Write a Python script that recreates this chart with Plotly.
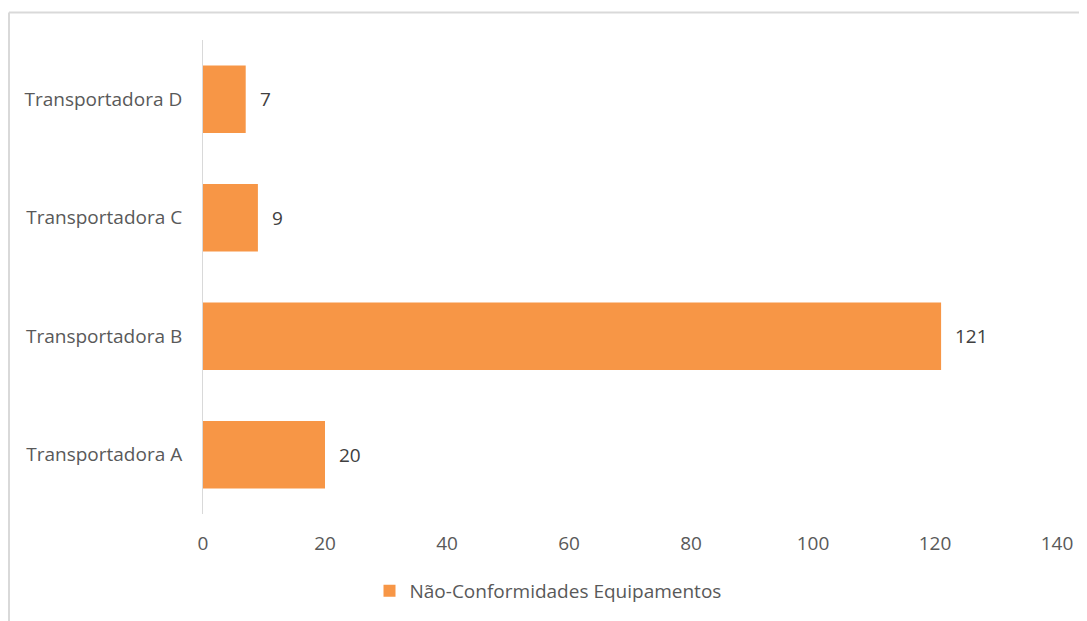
import plotly.graph_objects as go

categories = ["Transportadora A", "Transportadora B", "Transportadora C", "Transportadora D"]
values = [20, 121, 9, 7]
series_name = "Não-Conformidades Equipamentos"
x_ticks = [0, 20, 40, 60, 80, 100, 120, 140]

BAR = "#F79646"
FONT = "'Open Sans', Calibri, sans-serif"

fig = go.Figure()
fig.add_trace(go.Bar(
    y=categories, x=values, orientation="h", name=series_name,
    marker=dict(color=BAR, line=dict(width=0)),
    showlegend=True,
))

for c, v in zip(categories, values):
    fig.add_annotation(x=v, y=c, text=str(v), showarrow=False, xanchor="left",
                       xshift=12, font=dict(family=FONT, size=19, color="#404040"))

# page body has an 8px margin; figure coords = reference coords - 8
OFF = 8
W, H = 1087 - OFF, 621 - OFF
L, R, T, B = 203 - OFF, 30, 40 - OFF, 106
pw, ph = W - L - R, H - T - B
def px(x): return (x - OFF - L) / pw
def py(y): return (H - B - (y - OFF)) / ph

fig.add_shape(type="line", xref="paper", yref="paper", x0=px(9), x1=px(1100), y0=py(12.5), y1=py(12.5),
              line=dict(color="#d9d9d9", width=2))
fig.add_shape(type="line", xref="paper", yref="paper", x0=px(9), x1=px(9), y0=py(12.5), y1=py(640),
              line=dict(color="#d9d9d9", width=2))

fig.update_layout(
    width=W, height=H,
    margin=dict(l=L, r=R, t=T, b=B),
    paper_bgcolor="white", plot_bgcolor="white",
    bargap=0.43,
    font=dict(family=FONT, color="#595959"),
    xaxis=dict(range=[0, 140], tickvals=x_ticks, showgrid=False, zeroline=False,
               showline=False, tickfont=dict(size=19, color="#595959"),
               ticklabelstandoff=16),
    yaxis=dict(showgrid=False, zeroline=False, showline=True, linecolor="#d9d9d9", linewidth=1,
               tickfont=dict(size=19, color="#595959"), ticklabelstandoff=16),
    legend=dict(orientation="h", x=px(548), xanchor="center", y=py(591), yanchor="middle",
                font=dict(size=19, color="#595959"), itemwidth=30),
)

fig.write_html("out.html")
